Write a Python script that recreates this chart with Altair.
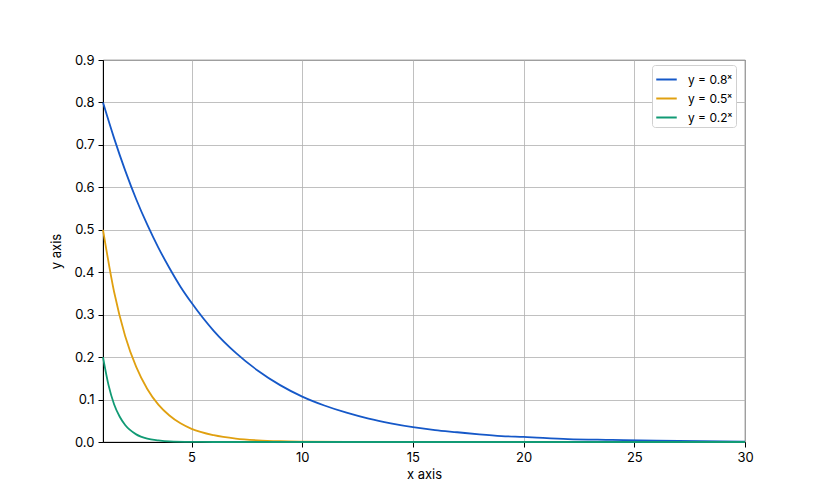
import altair as alt
import pandas as pd

# values
x_08 = [1, 1.5, 2, 2.5, 3, 3.5, 4, 4.5, 5, 6, 7, 8, 9, 10, 11, 12, 13, 14, 15,
        16, 17, 18, 19, 20, 22, 24, 26, 28, 30]
y_08 = [0.8, 0.716, 0.64, 0.572, 0.512, 0.458, 0.41, 0.366, 0.328, 0.262, 0.21,
        0.168, 0.134, 0.107, 0.086, 0.069, 0.055, 0.044, 0.035, 0.028, 0.023,
        0.018, 0.014, 0.012, 0.007, 0.005, 0.003, 0.002, 0.001]

x_05 = [1, 1.5, 2, 2.5, 3, 3.5, 4, 4.5, 5, 6, 7, 8, 9, 10, 12, 15, 20, 30]
y_05 = [0.5, 0.354, 0.25, 0.177, 0.125, 0.088, 0.0625, 0.044, 0.031, 0.016,
        0.008, 0.004, 0.002, 0.001, 0.0002, 0.0, 0.0, 0.0]

x_02 = [1, 1.25, 1.5, 1.75, 2, 2.5, 3, 3.5, 4, 5, 6, 10, 30]
y_02 = [0.2, 0.134, 0.089, 0.06, 0.04, 0.018, 0.008, 0.004, 0.0016, 0.0003,
        0.0, 0.0, 0.0]

labels = ["y = 0.8ˣ", "y = 0.5ˣ", "y = 0.2ˣ"]
colors = ["#1558c8", "#e0a010", "#119a74"]

df = pd.concat([
    pd.DataFrame({"x": x_08, "y": y_08, "s": labels[0]}),
    pd.DataFrame({"x": x_05, "y": y_05, "s": labels[1]}),
    pd.DataFrame({"x": x_02, "y": y_02, "s": labels[2]}),
])

x_axis = alt.X("x:Q", scale=alt.Scale(domain=[1, 30], nice=False, zero=False),
               axis=alt.Axis(title="x axis", values=[5, 10, 15, 20, 25, 30],
                             labelFlush=False))
y_axis = alt.Y("y:Q", scale=alt.Scale(domain=[0, 0.9], nice=False),
               axis=alt.Axis(title="y axis", format=".1f", labelFlush=False,
                             values=[0, 0.1, 0.2, 0.3, 0.4, 0.5, 0.6, 0.7, 0.8, 0.9]))
legend = alt.Legend(title=None, orient="none", legendX=549, legendY=5,
                    symbolType="stroke", symbolSize=420, symbolStrokeWidth=2,
                    labelFontSize=12, labelOffset=10, rowPadding=1,
                    padding=3, strokeColor="#d0d0d0", cornerRadius=3,
                    fillColor="white")

chart = alt.Chart(df).mark_line(strokeWidth=1.8, interpolate="monotone").encode(
    x=x_axis,
    y=y_axis,
    color=alt.Color("s:N", legend=legend,
                    scale=alt.Scale(domain=labels, range=colors)),
    order=alt.Order("x:Q"),
).properties(
    width=642, height=382, autosize="none",
    padding={"left": 95, "top": 52, "right": 75, "bottom": 47},
).configure(font="Inter").configure_axis(
    labelFontSize=13, titleFontSize=13, labelColor="black", titleColor="black",
    titleFontWeight="normal", gridColor="#b0b0b0", gridWidth=0.8,
    domainColor="black", domainWidth=1, tickColor="black", tickSize=5,
    labelPadding=4,
).configure_axisX(titlePadding=4).configure_axisY(titlePadding=10).configure_view(
    stroke="black", strokeWidth=0.8
)

chart.save("out.html", embed_options={"renderer": "svg", "actions": False})
